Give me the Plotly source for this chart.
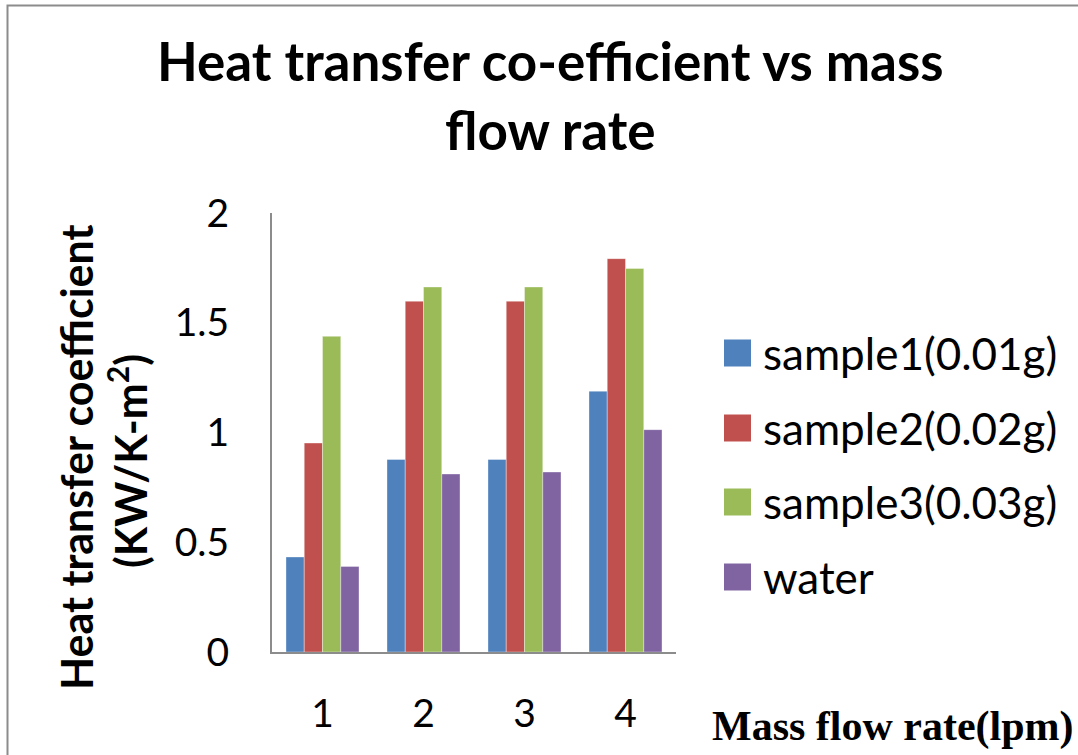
import plotly.graph_objects as go

categories = ["1", "2", "3", "4"]
series_names = ["sample1(0.01g)", "sample2(0.02g)", "sample3(0.03g)", "water"]
sample1 = [0.433, 0.877, 0.877, 1.188]
sample2 = [0.952, 1.598, 1.598, 1.792]
sample3 = [1.438, 1.663, 1.663, 1.747]
water = [0.390, 0.811, 0.820, 1.013]
colors = ["#4F81BD", "#C0504D", "#9BBB59", "#8064A2"]
y_ticks = [0, 0.5, 1, 1.5, 2]
y_tick_labels = ["0", "0.5", "1", "1.5", "2"]

W, H = 1078, 755
L, R, T, B = 272, 676, 213, 652  # plot area in pixels


def px(x):
    return (x - L) / (R - L)


def py(y):
    return (B - y) / (B - T)


fig = go.Figure()
for name, vals, col in zip(series_names, [sample1, sample2, sample3, water], colors):
    fig.add_trace(go.Bar(x=categories, y=vals, name=name,
                         marker=dict(color=col, line=dict(color="rgba(255,255,255,0.6)", width=0.6)),
                         showlegend=False))

FONT = "Lato"

# Title (two lines)
fig.add_annotation(text="<b>Heat transfer co-efficient vs mass</b>", xref="paper", yref="paper",
                   x=px(550), y=py(61), showarrow=False, xanchor="center", yanchor="middle",
                   font=dict(family=FONT, size=53, color="black"))
fig.add_annotation(text="<b>flow rate</b>", xref="paper", yref="paper",
                   x=px(550), y=py(129), showarrow=False, xanchor="center", yanchor="middle",
                   font=dict(family=FONT, size=53, color="black"))

# Y axis title (two rotated lines)
fig.add_annotation(text="<b>Heat transfer coefficient</b>", xref="paper", yref="paper",
                   x=px(76), y=py(457), showarrow=False, textangle=-90,
                   xanchor="center", yanchor="middle",
                   font=dict(family=FONT, size=43, color="black"))
fig.add_annotation(text="<b>(KW/K-m<sup>2</sup>)</b>", xref="paper", yref="paper",
                   x=px(127), y=py(461), showarrow=False, textangle=-90,
                   xanchor="center", yanchor="middle",
                   font=dict(family=FONT, size=43, color="black"))

# X axis title
fig.add_annotation(text="<b>Mass flow rate(lpm)</b>", xref="paper", yref="paper",
                   x=px(1076), y=py(726), showarrow=False, xanchor="right", yanchor="middle",
                   font=dict(family="Liberation Serif", size=42, color="black"))

# Legend (manual)
row_y = [353, 428, 502, 577]
for name, col, yy in zip(series_names, colors, row_y):
    fig.add_shape(type="rect", xref="paper", yref="paper",
                  x0=px(724), x1=px(751), y0=py(yy - 13.5), y1=py(yy + 13.5),
                  fillcolor=col, line=dict(width=0))
    fig.add_annotation(text=name, xref="paper", yref="paper", x=px(761), y=py(yy),
                       showarrow=False, xanchor="left", yanchor="middle",
                       font=dict(family=FONT, size=44, color="black"))

# Outer border
fig.add_shape(type="rect", xref="paper", yref="paper",
              x0=px(7.5), x1=px(1090), y0=py(780), y1=py(5.5),
              line=dict(color="#8c8c8c", width=2), fillcolor="rgba(0,0,0,0)")

fig.update_layout(
    width=W, height=H,
    margin=dict(l=L, r=W - R, t=T, b=H - B),
    paper_bgcolor="white", plot_bgcolor="white",
    barmode="group", bargap=0.277, bargroupgap=0,
    showlegend=False,
    font=dict(family=FONT, color="black"),
)
fig.update_xaxes(showline=True, linecolor="#8c8c8c", linewidth=2, showgrid=False,
                 ticks="", tickfont=dict(family=FONT, size=39, color="black"),
                 ticklabelstandoff=26, zeroline=False)
fig.update_yaxes(range=[0, 2], tickvals=y_ticks, ticktext=y_tick_labels,
                 showline=True, linecolor="#8c8c8c", linewidth=2, showgrid=False,
                 ticks="", tickfont=dict(family=FONT, size=39, color="black"),
                 ticklabelstandoff=33, zeroline=False)

fig.write_html("out.html", config={"displayModeBar": False},
               post_script="document.body.style.margin='0';document.body.style.overflow='hidden';")
